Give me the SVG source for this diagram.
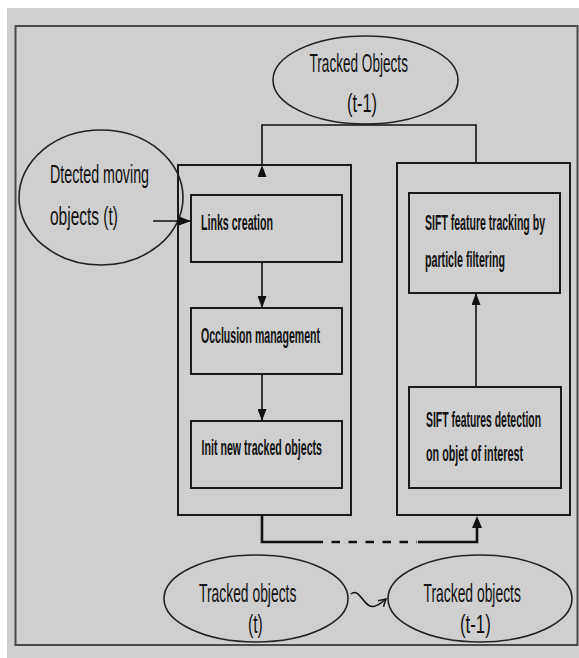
<svg xmlns="http://www.w3.org/2000/svg" width="579" height="658" viewBox="0 0 579 658">
<defs>
<marker id="ah" markerUnits="userSpaceOnUse" markerWidth="12" markerHeight="9" refX="12" refY="4.5" orient="auto"><path d="M0,0 L12,4.5 L0,9 z" fill="#111"/></marker>
<marker id="open" markerUnits="userSpaceOnUse" markerWidth="10" markerHeight="10" refX="8" refY="5" orient="auto"><path d="M1,1 L8,5 L1,9" fill="none" stroke="#111" stroke-width="1.5"/></marker>
<style>
.box{fill:none;stroke:#1a1a1a;stroke-width:2}
.ell{fill:none;stroke:#222;stroke-width:1.6}
.ln{fill:none;stroke:#111;stroke-width:1.6}
.bt{font-family:"Liberation Sans",Arial,sans-serif;font-weight:bold;font-size:22px;fill:#111}
.et{font-family:"Liberation Sans",Arial,sans-serif;font-size:25px;fill:#111}
</style>
</defs>
<rect x="0" y="0" width="579" height="658" fill="#ffffff"/>
<rect x="7" y="8" width="572" height="650" fill="#cfcfcf"/>
<rect x="15.5" y="26" width="562" height="619" fill="none" stroke="#4a4a4a" stroke-width="2"/>

<g id="outer-left"><rect class="box" x="178" y="165" width="173" height="350"/></g>
<g id="outer-right"><rect class="box" x="397" y="163" width="173" height="352"/></g>

<g id="tracked-top">
<ellipse class="ell" cx="365.5" cy="80" rx="92.5" ry="44"/>
<text class="et" transform="translate(309.5,72) scale(0.55,1)" textLength="179" lengthAdjust="spacingAndGlyphs">Tracked Objects</text>
<text class="et" transform="translate(347,112) scale(0.55,1)" textLength="54.5" lengthAdjust="spacingAndGlyphs" font-size="23">(t-1)</text>
</g>

<g id="detected">
<ellipse class="ell" cx="101" cy="197.5" rx="82" ry="67.5"/>
<text class="et" transform="translate(50,183) scale(0.55,1)" textLength="180" lengthAdjust="spacingAndGlyphs">Dtected moving</text>
<text class="et" transform="translate(50,225) scale(0.55,1)" textLength="123.6" lengthAdjust="spacingAndGlyphs">objects (t)</text>
</g>

<g id="links">
<rect class="box" x="191" y="195" width="151" height="67"/>
<text class="bt" transform="translate(201,230) scale(0.5,1)" textLength="144" lengthAdjust="spacingAndGlyphs">Links  creation</text>
</g>

<g id="occlusion">
<rect class="box" x="191" y="308" width="151" height="66"/>
<text class="bt" transform="translate(201,343) scale(0.5,1)" textLength="238" lengthAdjust="spacingAndGlyphs">Occlusion management</text>
</g>

<g id="init">
<rect class="box" x="191" y="421" width="151" height="67"/>
<text class="bt" transform="translate(201.5,455) scale(0.5,1)" textLength="241" lengthAdjust="spacingAndGlyphs">Init new tracked objects</text>
</g>

<g id="sift-tracking">
<rect class="box" x="409" y="193" width="151" height="100"/>
<text class="bt" transform="translate(425,230) scale(0.5,1)" textLength="240" lengthAdjust="spacingAndGlyphs">SIFT feature tracking by</text>
<text class="bt" transform="translate(425,267) scale(0.5,1)" textLength="160" lengthAdjust="spacingAndGlyphs">particle filtering</text>
</g>

<g id="sift-detection">
<rect class="box" x="409" y="387" width="152" height="101"/>
<text class="bt" transform="translate(426,427) scale(0.5,1)" textLength="230" lengthAdjust="spacingAndGlyphs">SIFT features detection</text>
<text class="bt" transform="translate(426,461) scale(0.5,1)" textLength="194" lengthAdjust="spacingAndGlyphs">on objet of interest</text>
</g>

<g id="tracked-t">
<ellipse class="ell" cx="256" cy="598.5" rx="92" ry="43.5"/>
<text class="et" transform="translate(199,602) scale(0.55,1)" textLength="177" lengthAdjust="spacingAndGlyphs">Tracked objects</text>
<text class="et" transform="translate(248,633) scale(0.55,1)" textLength="27" lengthAdjust="spacingAndGlyphs" font-size="23">(t)</text>
</g>

<g id="tracked-t1">
<ellipse class="ell" cx="480" cy="598.5" rx="92" ry="43.5"/>
<text class="et" transform="translate(423.5,602) scale(0.55,1)" textLength="177" lengthAdjust="spacingAndGlyphs">Tracked objects</text>
<text class="et" transform="translate(460,633) scale(0.55,1)" textLength="56" lengthAdjust="spacingAndGlyphs" font-size="23">(t-1)</text>
</g>

<g id="connectors">
<path class="ln" d="M262,165 V125 H476 V163" marker-start="url(#ah)"/>
<path class="ln" d="M153,221 H191" marker-end="url(#ah)"/>
<path class="ln" d="M262,262 V308" marker-end="url(#ah)"/>
<path class="ln" d="M262,374 V421" marker-end="url(#ah)"/>
<path class="ln" d="M476,387 V293" marker-end="url(#ah)"/>
<path fill="none" stroke="#111" stroke-width="2.6" d="M262,515 V542 H323"/>
<path fill="none" stroke="#111" stroke-width="2.6" d="M323,542 H417" stroke-dasharray="8.5 8.5" stroke-dashoffset="8.5"/>
<path fill="none" stroke="#111" stroke-width="2.6" d="M418,542 H477 V527"/>
<path d="M472,528 L477,516 L482,528 z" fill="#111"/>
<path class="ln" d="M351,594 C357,589 361,598 366,603 C371,609 377,607 386,599" marker-end="url(#open)"/>
</g>
</svg>
